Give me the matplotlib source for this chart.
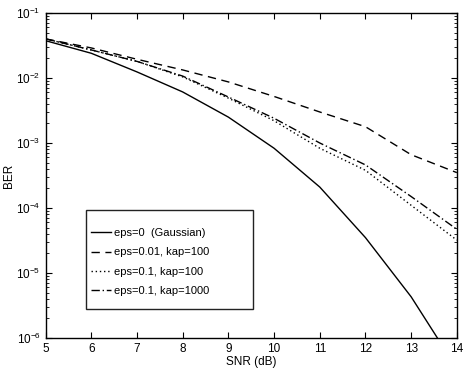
import matplotlib
matplotlib.use("Agg")
import matplotlib.pyplot as plt
import numpy as np
from matplotlib.ticker import LogLocator, NullFormatter
from matplotlib.patches import Rectangle

plt.rcParams['font.family'] = ['Liberation Sans', 'DejaVu Sans']

snr = [5, 6, 7, 8, 9, 10, 11, 12, 13, 14]

# BER curves
ber_gauss = [0.0375, 0.024, 0.0124, 0.0061, 0.0025, 8.3e-4, 2.1e-4, 3.5e-5, 4.3e-6, 3.4e-7]
ber_eps001_k100 = [0.040, 0.029, 0.0194, 0.0133, 0.0087, 0.0052, 0.0030, 0.00178, 6.6e-4, 3.5e-4]
ber_eps01_k100 = [0.040, 0.027, 0.018, 0.0104, 0.0049, 0.0022, 8.3e-4, 3.8e-4, 1.1e-4, 3.2e-5]
ber_eps01_k1000 = [0.040, 0.027, 0.018, 0.0107, 0.0051, 0.0024, 1.0e-3, 4.6e-4, 1.5e-4, 4.7e-5]

labels = ['eps=0  (Gaussian)', 'eps=0.01, kap=100', 'eps=0.1, kap=100', 'eps=0.1, kap=1000']

fig = plt.figure(figsize=(4.7, 3.71), dpi=100)
ax = fig.add_axes([0.097, 0.089, 0.875, 0.876])

ax.semilogy(snr, ber_gauss, color='k', lw=1.0, ls='-', label=labels[0])
ax.semilogy(snr, ber_eps001_k100, color='k', lw=1.0, ls=(0, (6, 4)), label=labels[1])
ax.semilogy(snr, ber_eps01_k100, color='k', lw=1.0, ls=(0, (1, 2)), label=labels[2])
ax.semilogy(snr, ber_eps01_k1000, color='k', lw=1.0, ls=(0, (6, 2, 1, 2)), label=labels[3])

ax.set_xlim(5, 14)
ax.set_ylim(1e-6, 1e-1)
ax.set_xticks(range(5, 15))
ax.yaxis.set_major_locator(LogLocator(base=10, numticks=10))
ax.yaxis.set_minor_locator(LogLocator(base=10, subs=np.arange(2, 10), numticks=10))
ax.yaxis.set_minor_formatter(NullFormatter())
ax.tick_params(which='both', direction='in', top=True, right=True, labelsize=8.5)
ax.tick_params(which='major', length=4)
ax.tick_params(which='minor', length=2)
for s in ax.spines.values():
    s.set_linewidth(1.0)

ax.set_xlabel('SNR (dB)', fontsize=8.5, labelpad=1)
ax.set_ylabel('BER', fontsize=8.5, labelpad=1)

# matlab-style legend: contents hug the left edge, frame drawn separately
leg = ax.legend(loc='upper left', bbox_to_anchor=(0.110, 0.338), borderaxespad=0,
                borderpad=0, frameon=False, fontsize=8,
                handlelength=1.8, handletextpad=0.3, labelspacing=0.84)
ax.add_patch(Rectangle((0.098, 0.0892), 0.406, 0.305, transform=ax.transAxes,
                       facecolor='white', edgecolor='#222222', lw=1.0, zorder=4))
leg.set_zorder(5)

plt.savefig('out.png', dpi=100)
plt.close()
